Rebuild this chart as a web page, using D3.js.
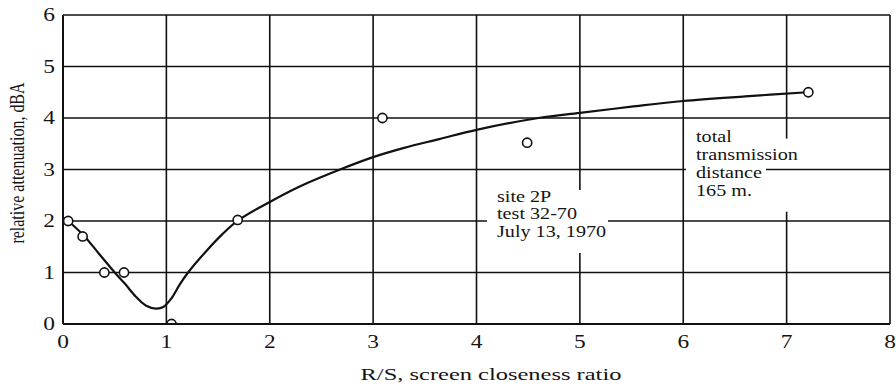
<!DOCTYPE html>
<html>
<head>
<meta charset="utf-8">
<script src="https://cdn.jsdelivr.net/npm/d3@7/dist/d3.min.js"></script>
<style>
  html, body { margin: 0; padding: 0; background: #fff; }
  svg { display: block; }
  text { font-family: "Liberation Serif", "Times New Roman", serif; fill: #141414; }
</style>
</head>
<body>
<svg id="chart" width="896" height="389"></svg>
<script>
// Measured points: relative attenuation (dBA) against R/S
const measuredRS  = [0.05, 0.19, 0.40, 0.59, 1.05, 1.69, 3.09, 4.49, 7.21];
const measuredDBA = [2.00, 1.70, 1.00, 1.00, 0.00, 2.02, 4.00, 3.52, 4.50];

// Hand-faired trend curve through the measurements
const curveRS  = [0.05, 0.20, 0.35, 0.50, 0.60, 0.70, 0.80, 0.90, 0.97, 1.05, 1.13, 1.21, 1.37, 1.54, 1.70, 2.00, 2.30, 2.68, 3.00, 3.30, 3.64, 4.00, 4.60, 5.00, 5.50, 6.00, 6.60, 7.20];
const curveDBA = [2.00, 1.72, 1.36, 1.00, 0.78, 0.54, 0.36, 0.30, 0.33, 0.50, 0.77, 1.00, 1.38, 1.74, 2.02, 2.37, 2.68, 3.00, 3.24, 3.42, 3.59, 3.77, 4.00, 4.10, 4.22, 4.33, 4.42, 4.50];

const xTicks = [0, 1, 2, 3, 4, 5, 6, 7, 8];
const yTicks = [0, 1, 2, 3, 4, 5, 6];

const xTitle = "R/S, screen closeness ratio";
const yTitle = "relative attenuation, dBA";
const siteNote = ["site 2P", "test 32-70", "July 13, 1970"];
const distanceNote = ["total", "transmission", "distance", "165 m."];

const svg = d3.select("#chart");
const W = 896, H = 389;
const plotL = 63, plotR = 890, plotT = 15, plotB = 324;
const SX = 1.26; // horizontal stretch of the lettering

const x = d3.scaleLinear().domain([0, 8]).range([plotL, plotR]);
const y = d3.scaleLinear().domain([0, 6]).range([plotB, plotT]);

svg.append("rect").attr("width", W).attr("height", H).attr("fill", "#fff");

const ink = "#111";

// vertical grid lines
svg.append("g").selectAll("line").data(xTicks).join("line")
  .attr("x1", d => x(d)).attr("x2", d => x(d))
  .attr("y1", y(6)).attr("y2", y(0))
  .attr("stroke", ink).attr("stroke-width", d => d === 0 ? 2 : 1.6);

// break in the x = 7 rule beside the distance note
svg.append("rect")
  .attr("x", x(7) - 5).attr("width", 10)
  .attr("y", y(3.6)).attr("height", y(2.18) - y(3.6))
  .attr("fill", "#fff");

// horizontal grid lines
svg.append("g").selectAll("line").data(yTicks).join("line")
  .attr("x1", x(0)).attr("x2", x(8))
  .attr("y1", d => y(d)).attr("y2", d => y(d))
  .attr("stroke", ink).attr("stroke-width", d => d === 0 ? 2 : 1.6);

// stretched text helper
function label(g, str, px, py, anchor, size, sx = SX) {
  return g.append("text")
    .attr("transform", `translate(${px},${py}) scale(${sx},1)`)
    .attr("text-anchor", anchor)
    .attr("font-size", size)
    .text(str);
}

// tick labels
const tg = svg.append("g");
xTicks.forEach(t => label(tg, String(t), x(t), 348, "middle", 18, 1.3));
yTicks.forEach(t => label(tg, String(t), 55, y(t) + 6, "end", 18, 1.3));

// axis titles
label(svg, xTitle, 491, 380, "middle", 17, 1.44);
svg.append("text")
  .attr("transform", `translate(24,${163}) rotate(-90) scale(1,${SX})`)
  .attr("text-anchor", "middle")
  .attr("font-size", 16)
  .text(yTitle);

// site note with a white block behind it
svg.append("rect")
  .attr("x", 487).attr("y", 190).attr("width", 121).attr("height", 63)
  .attr("fill", "#fff");
const sg = svg.append("g");
siteNote.forEach((s, i) => label(sg, s, 497, 202 + i * 17.3, "start", 16));

// distance note: each line blanks the rules behind it
const dg = svg.append("g");
distanceNote.forEach((s, i) => {
  const t = label(dg, s, 696, 142 + i * 18, "start", 16);
  const b = t.node().getBBox();
  dg.insert("rect", "text")
    .attr("x", 696 - 10).attr("y", 142 + i * 18 - 13)
    .attr("width", b.width * SX + 14).attr("height", 18)
    .attr("fill", "#fff");
});

// clip marks to the plotting frame
svg.append("clipPath").attr("id", "frame")
  .append("rect").attr("x", x(0)).attr("y", y(6))
  .attr("width", x(8) - x(0)).attr("height", y(0) - y(6));

const line = d3.line().x((d, i) => x(curveRS[i])).y((d, i) => y(curveDBA[i]))
  .curve(d3.curveCatmullRom.alpha(0.5));
svg.append("path")
  .attr("d", line(curveRS))
  .attr("fill", "none").attr("stroke", ink).attr("stroke-width", 2.2)
  .attr("stroke-linejoin", "round");

const pts = svg.append("g").attr("clip-path", "url(#frame)");
pts.selectAll("circle").data(measuredRS).join("circle")
  .attr("cx", d => x(d)).attr("cy", (d, i) => y(measuredDBA[i]))
  .attr("r", 4.6)
  .attr("fill", "#fff").attr("stroke", ink).attr("stroke-width", 1.6);

// bottom rule drawn over the clipped marker
svg.append("line")
  .attr("x1", x(0)).attr("x2", x(8)).attr("y1", y(0)).attr("y2", y(0))
  .attr("stroke", ink).attr("stroke-width", 2);
</script>
</body>
</html>
